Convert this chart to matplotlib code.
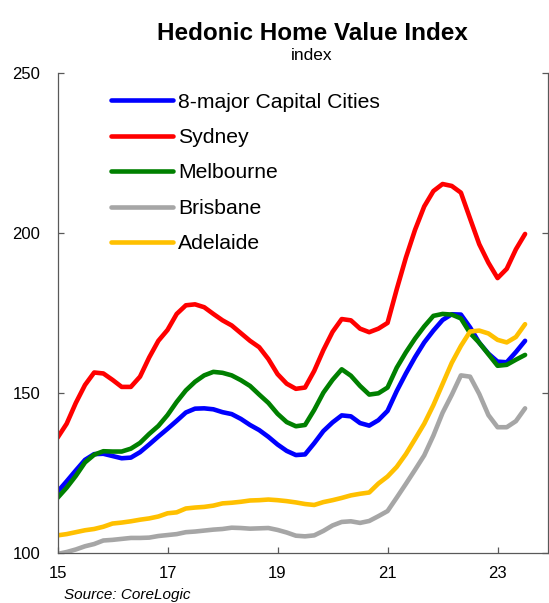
import numpy as np
import matplotlib
matplotlib.use("Agg")
import matplotlib.pyplot as plt

plt.rcParams["font.family"] = ["Liberation Sans", "DejaVu Sans"]

# Bi-monthly readings of the CoreLogic hedonic index, Jan 2015 to Jul 2023
months = np.arange(0, 103, 2)          # months since Jan 2015
years = 15 + months / 12.0             # axis is in two-digit years

capital_cities = [119.2, 122.5, 125.9, 129.2, 131.0, 131.1, 130.4, 129.7, 129.9, 131.6,
                  134.0, 136.5, 138.9, 141.4, 144.0, 145.2, 145.3, 145.0, 144.1, 143.5,
                  142.0, 140.1, 138.5, 136.4, 134.0, 132.0, 130.7, 130.9, 134.4, 138.2,
                  140.9, 143.1, 142.8, 140.7, 139.9, 141.6, 144.5, 150.7, 156.2, 161.3,
                  165.9, 169.6, 172.9, 174.7, 174.6, 170.6, 165.8, 162.4, 159.9, 159.7,
                  162.9, 166.4]
sydney = [136.1, 140.5, 147.0, 152.6, 156.5, 156.2, 154.2, 152.0, 152.0, 155.2,
          161.2, 166.4, 169.8, 174.8, 177.5, 177.8, 176.9, 174.8, 172.8, 171.2,
          168.8, 166.4, 164.4, 160.7, 156.0, 153.0, 151.4, 151.8, 157.0, 163.5,
          169.2, 173.2, 172.8, 170.2, 169.1, 170.2, 172.0, 182.5, 192.4, 201.1,
          208.4, 213.2, 215.4, 214.8, 212.7, 204.6, 196.6, 190.8, 186.0, 188.9,
          195.0, 199.8]
melbourne = [117.3, 120.5, 124.2, 128.4, 130.8, 131.9, 131.8, 131.8, 132.7, 134.5,
             137.3, 139.8, 143.2, 147.3, 150.9, 153.6, 155.6, 156.7, 156.4, 155.6,
             154.1, 152.3, 149.6, 147.0, 143.6, 141.0, 139.7, 140.1, 144.8, 150.2,
             154.2, 157.5, 155.5, 152.3, 149.6, 150.0, 151.8, 158.0, 162.8, 167.1,
             170.9, 174.2, 174.8, 174.6, 173.4, 168.8, 165.8, 162.2, 158.6, 158.9,
             160.5, 162.0]
brisbane = [99.8, 100.4, 101.2, 102.2, 102.9, 104.0, 104.2, 104.5, 104.8, 104.8,
            104.9, 105.4, 105.7, 106.0, 106.6, 106.8, 107.1, 107.4, 107.6, 108.0,
            107.9, 107.7, 107.8, 107.9, 107.3, 106.5, 105.5, 105.3, 105.6, 107.0,
            108.7, 109.8, 110.0, 109.5, 110.1, 111.6, 113.2, 117.4, 121.7, 126.1,
            130.6, 136.8, 143.9, 149.5, 155.6, 155.2, 149.8, 143.2, 139.4, 139.4,
            141.3, 145.3]
adelaide = [105.6, 106.0, 106.6, 107.2, 107.6, 108.3, 109.3, 109.6, 110.0, 110.5,
            110.9, 111.5, 112.5, 112.8, 114.0, 114.3, 114.5, 114.9, 115.6, 115.8,
            116.1, 116.5, 116.6, 116.8, 116.6, 116.3, 115.9, 115.4, 115.1, 116.0,
            116.6, 117.3, 118.1, 118.6, 119.0, 121.8, 124.0, 127.0, 131.0, 135.7,
            140.5, 146.3, 152.9, 159.5, 164.8, 169.3, 169.6, 168.7, 166.7, 165.9,
            167.6, 171.6]

series_names = ["8-major Capital Cities", "Sydney", "Melbourne", "Brisbane", "Adelaide"]
series_values = [capital_cities, sydney, melbourne, brisbane, adelaide]
series_colors = ["#0000FF", "#FF0000", "#008000", "#A6A6A6", "#FFC000"]

x_ticks = [15, 17, 19, 21, 23]
y_ticks = [100, 150, 200, 250]

W, H = 549, 603
fig = plt.figure(figsize=(W / 100, H / 100), dpi=100)
ax = fig.add_axes([57.5 / W, (H - 553.3) / H, (548 - 57.5) / W, (553.3 - 73.3) / H])

lines = []
for name, vals, col in zip(series_names, series_values, series_colors):
    (ln,) = ax.plot(years, vals, color=col, lw=3.3, label=name,
                    solid_capstyle="round", solid_joinstyle="round")
    lines.append(ln)

ax.set_xlim(15, 15 + 11 / 12 + 8)
ax.set_ylim(100, 250)
ax.set_xticks(x_ticks)
ax.set_xticklabels([str(t) for t in x_ticks])
ax.set_yticks(y_ticks)
ax.set_yticklabels([str(t) for t in y_ticks])

spine_col = "#595959"
for side in ["left", "bottom", "right"]:
    ax.spines[side].set_color(spine_col)
    ax.spines[side].set_linewidth(0.9)
ax.spines["top"].set_visible(False)

ax.tick_params(axis="y", which="major", direction="in", length=4, width=0.9,
               color=spine_col, labelsize=12, pad=12.5, right=True, labelright=False)
ax.tick_params(axis="x", which="major", direction="in", length=4.5, width=0.9,
               color=spine_col, labelsize=12, pad=9.5)

fs_leg = 15.2
leg = ax.legend(lines, series_names, loc="upper left",
                bbox_to_anchor=(111 / W, 1 - 92.5 / H), bbox_transform=fig.transFigure,
                frameon=False, fontsize=fs_leg, handlelength=2.94, handletextpad=0.24,
                labelspacing=0.78, borderpad=0, borderaxespad=0)

fig.text(312 / W, 1 - 34 / H, "Hedonic Home Value Index", ha="center", va="center",
         fontsize=17.5, fontweight="bold")
fig.text(312 / W, 1 - 55 / H, "index", ha="center", va="center", fontsize=12.5)
fig.text(64.3 / W, 1 - 595 / H, "Source: CoreLogic", ha="left", va="center",
         fontsize=11, style="italic")

fig.savefig("out.png", dpi=100)
